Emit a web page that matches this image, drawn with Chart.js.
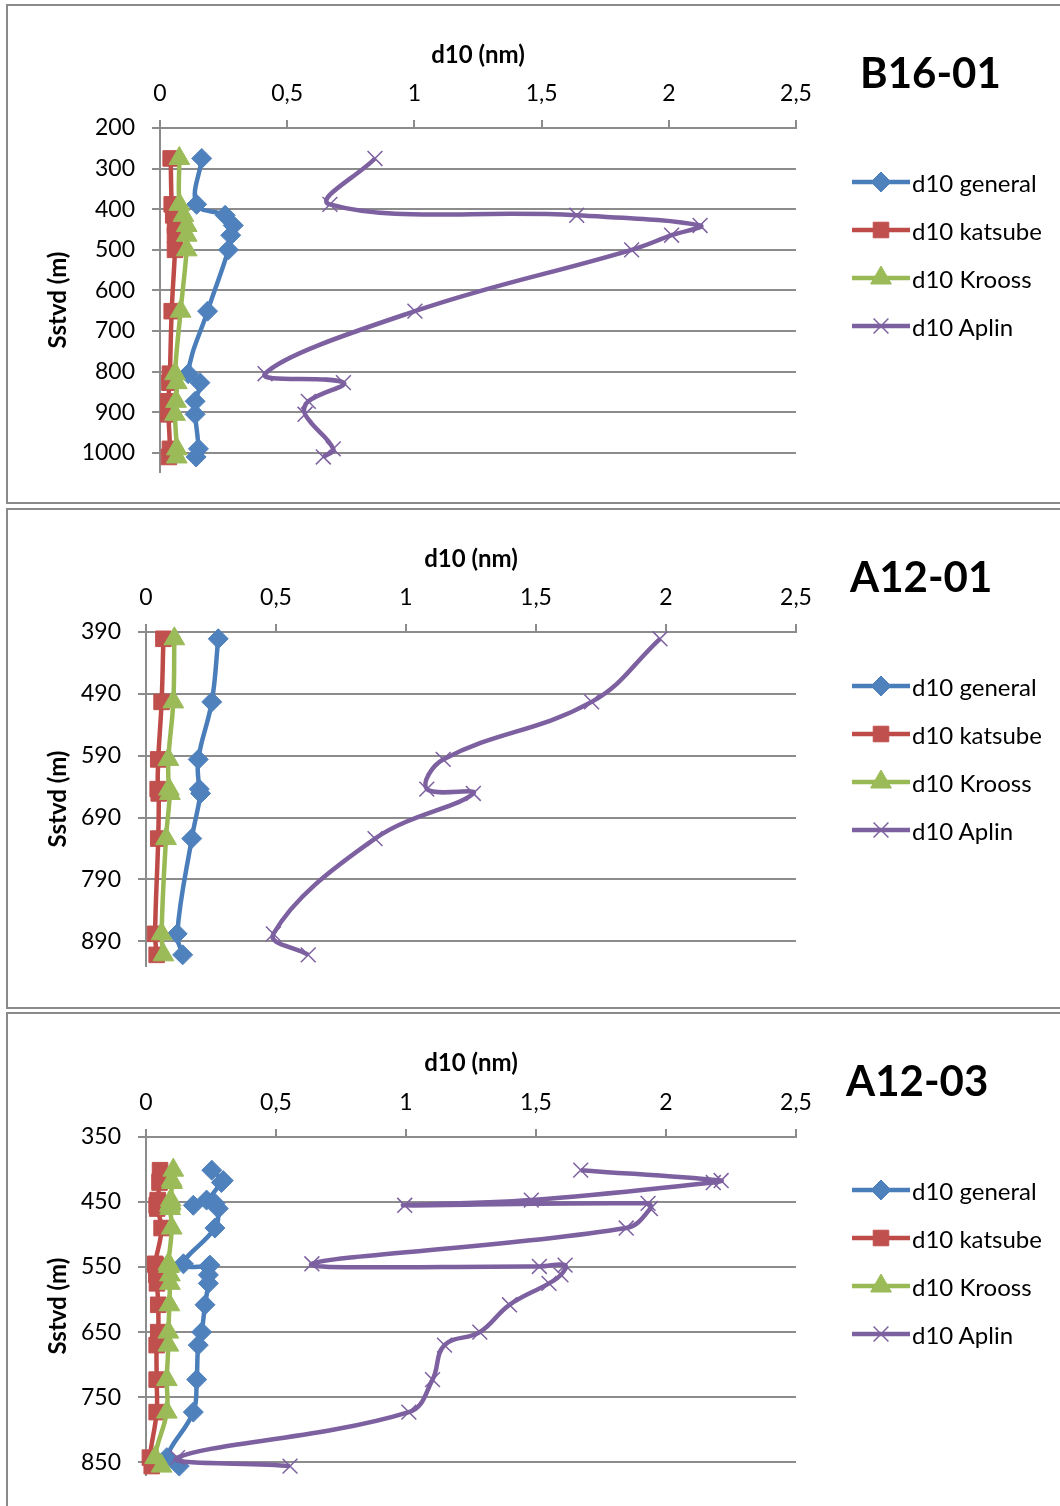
<!DOCTYPE html>
<html>
<head>
<meta charset="utf-8">
<script src="https://cdn.jsdelivr.net/npm/chart.js@4.4.1/dist/chart.umd.min.js"></script>
<style>
  body { margin: 0; width: 1060px; height: 1506px; overflow: hidden; background: #fff; position: relative; font-family: Lato, sans-serif; }
  .box { position: absolute; left: 6px; width: 1090px; border: 2px solid #8a8a8a; box-sizing: border-box; }
  canvas.chart { position: absolute; left: 0; }
  .name { position: absolute; font: bold 42px Lato, sans-serif; line-height: 42px; color: #000; }
  .legend { position: absolute; left: 852px; }
  .legend .row { display: flex; align-items: center; height: 48px; }
  .legend span { font: 24px Lato, sans-serif; color: #000; margin-left: 2px; }
</style>
</head>
<body>
<script>
// shared axis + series styling
const xTicks = [0, 0.5, 1, 1.5, 2, 2.5];
const seriesNames = ['d10 general', 'd10 katsube', 'd10 Krooss', 'd10 Aplin'];
const lineColors = ['#4a7ebb', '#be4b48', '#98b954', '#7d60a0'];
const markerColors = ['#4f81bd', '#c0504d', '#9bbb59', '#7d60a0'];
const markerStyles = ['rectRot', 'rect', 'triangle', 'crossRot'];
const markerSizes = [10, 11, 12, 10.5];

// B16-01
const b16Depth   = [275, 388, 415, 440, 464, 500, 651, 805, 827, 873, 905, 990, 1010];
const b16General = [0.164, 0.144, 0.256, 0.288, 0.278, 0.269, 0.187, 0.111, 0.157, 0.138, 0.138, 0.151, 0.142];
const b16Katsube = [0.042, 0.046, 0.052, 0.059, 0.059, 0.059, 0.046, 0.039, 0.037, 0.033, 0.033, 0.039, 0.035];
const b16Krooss  = [0.076, 0.076, 0.092, 0.105, 0.105, 0.105, 0.081, 0.059, 0.066, 0.063, 0.059, 0.066, 0.066];
const b16Aplin   = [0.845, 0.668, 1.638, 2.123, 2.011, 1.854, 1.002, 0.413, 0.721, 0.583, 0.570, 0.681, 0.642];
const b16DepthTicks = [200, 300, 400, 500, 600, 700, 800, 900, 1000];

// A12-01
const a1201Depth   = [401, 503, 596, 644, 651, 724, 878, 912];
const a1201General = [0.278, 0.253, 0.201, 0.205, 0.210, 0.176, 0.120, 0.141];
const a1201Katsube = [0.067, 0.060, 0.047, 0.045, 0.049, 0.047, 0.035, 0.041];
const a1201Krooss  = [0.109, 0.105, 0.086, 0.088, 0.092, 0.077, 0.060, 0.067];
const a1201Aplin   = [1.977, 1.714, 1.143, 1.080, 1.259, 0.881, 0.490, 0.624];
const a1201DepthTicks = [390, 490, 590, 690, 790, 890];

// A12-03
const a1203Depth   = [401, 417, 420, 447, 455, 452, 460, 490, 545, 549, 547, 562, 575, 608, 650, 670, 723, 773, 843, 856];
const a1203General = [0.253, 0.297, 0.290, 0.233, 0.182, 0.265, 0.278, 0.265, 0.144, 0.240, 0.246, 0.240, 0.240, 0.227, 0.214, 0.201, 0.195, 0.182, 0.080, 0.128];
const a1203Katsube = [0.054, 0.054, 0.052, 0.045, 0.041, 0.045, 0.043, 0.060, 0.035, 0.040, 0.037, 0.040, 0.042, 0.047, 0.047, 0.041, 0.041, 0.041, 0.015, 0.022];
const a1203Krooss  = [0.105, 0.099, 0.100, 0.095, 0.092, 0.095, 0.093, 0.099, 0.086, 0.088, 0.090, 0.092, 0.092, 0.090, 0.086, 0.086, 0.080, 0.080, 0.035, 0.060];
const a1203Aplin   = [1.672, 2.212, 2.182, 1.482, 0.995, 1.931, 1.940, 1.847, 0.638, 1.513, 1.612, 1.596, 1.550, 1.398, 1.284, 1.148, 1.102, 1.011, 0.121, 0.554];
const a1203DepthTicks = [350, 450, 550, 650, 750, 850];

Chart.defaults.font.family = 'Lato, sans-serif';
Chart.defaults.color = '#000';

const axisGray = '#8c8c8c';

function makePanel(p) {
  const box = document.createElement('div');
  box.className = 'box';
  box.style.top = p.top + 'px';
  box.style.height = p.height + 'px';
  document.body.appendChild(box);

  const canvas = document.createElement('canvas');
  canvas.className = 'chart';
  canvas.width = 1060;
  canvas.height = p.canvasHeight;
  canvas.style.top = p.top + 'px';
  document.body.appendChild(canvas);

  const chart = new Chart(canvas, {
    type: 'scatter',
    data: {
      datasets: seriesNames.map((name, i) => ({
        label: name,
        data: p.depth.map((d, k) => ({ x: p.values[i][k], y: d })),
        showLine: true,
        tension: 0.4,
        borderColor: lineColors[i],
        borderWidth: 4.5,
        backgroundColor: markerColors[i],
        pointStyle: markerStyles[i],
        pointRadius: markerSizes[i],
        pointBackgroundColor: markerColors[i],
        pointBorderColor: markerColors[i],
        pointBorderWidth: i === 3 ? 1.5 : 1,
        order: 4 - i,
        clip: false
      }))
    },
    options: {
      responsive: false,
      animation: false,
      events: [],
      layout: { padding: { left: 30, top: 20, right: 1060 - 796, bottom: p.canvasHeight - p.areaBottom } },
      plugins: { legend: { display: false }, tooltip: { enabled: false } },
      scales: {
        x: {
          type: 'linear',
          position: 'top',
          min: 0,
          max: 2.5,
          afterBuildTicks: s => { s.ticks = xTicks.map(v => ({ value: v })); },
          afterFit: s => { s.height = p.areaTop - 20; },
          ticks: { padding: 13, font: { size: 23 }, callback: v => String(v).replace('.', ',') },
          grid: { drawOnChartArea: false, tickLength: 8, color: axisGray, lineWidth: 2 },
          border: { color: axisGray, width: 2 },
          title: { display: true, text: 'd10 (nm)', font: { size: 24, weight: 'bold' }, padding: { top: 17, bottom: 0 } }
        },
        y: {
          type: 'linear',
          reverse: true,
          min: p.yMin,
          max: p.yMax,
          afterBuildTicks: s => { s.ticks = p.yTicks.map(v => ({ value: v })); },
          afterFit: s => { s.width = p.areaLeft - 30; },
          ticks: { padding: 17, font: { size: 23 }, callback: v => String(v) },
          grid: { tickLength: 8, color: axisGray, lineWidth: 2 },
          border: { color: axisGray, width: 2 },
          title: { display: true, text: 'Sstvd (m)', font: { size: 24, weight: 'bold' }, padding: { top: 14, bottom: 0 } }
        }
      }
    }
  });

  const name = document.createElement('div');
  name.className = 'name';
  name.textContent = p.name;
  name.style.left = p.nameLeft + 'px';
  name.style.top = (p.top + 47) + 'px';
  document.body.appendChild(name);

  // legend rows: line with marker, then label
  const legend = document.createElement('div');
  legend.className = 'legend';
  legend.style.top = (p.top + 154) + 'px';
  chart.data.datasets.forEach(ds => {
    const row = document.createElement('div');
    row.className = 'row';
    const icon = document.createElement('canvas');
    icon.width = 58;
    icon.height = 26;
    const ctx = icon.getContext('2d');
    ctx.strokeStyle = ds.borderColor;
    ctx.lineWidth = 4.5;
    ctx.beginPath();
    ctx.moveTo(0, 13);
    ctx.lineTo(58, 13);
    ctx.stroke();
    ctx.fillStyle = ds.pointBackgroundColor;
    ctx.strokeStyle = ds.pointBorderColor;
    ctx.lineWidth = ds.pointBorderWidth;
    Chart.helpers.drawPoint(ctx, { pointStyle: ds.pointStyle, radius: ds.pointRadius, borderWidth: ds.pointBorderWidth, rotation: 0 }, 29, 13);
    const label = document.createElement('span');
    label.textContent = ds.label;
    row.appendChild(icon);
    row.appendChild(label);
    legend.appendChild(row);
  });
  document.body.appendChild(legend);
}

makePanel({
  name: 'B16-01', nameLeft: 860, top: 4, height: 500, canvasHeight: 500,
  areaLeft: 160, areaTop: 124, areaBottom: 468,
  yMin: 200, yMax: 1047, yTicks: b16DepthTicks,
  depth: b16Depth, values: [b16General, b16Katsube, b16Krooss, b16Aplin]
});

makePanel({
  name: 'A12-01', nameLeft: 850, top: 508, height: 501, canvasHeight: 501,
  areaLeft: 146, areaTop: 124, areaBottom: 458,
  yMin: 390, yMax: 930, yTicks: a1201DepthTicks,
  depth: a1201Depth, values: [a1201General, a1201Katsube, a1201Krooss, a1201Aplin]
});

makePanel({
  name: 'A12-03', nameLeft: 846, top: 1012, height: 500, canvasHeight: 494,
  areaLeft: 146, areaTop: 125, areaBottom: 470,
  yMin: 350, yMax: 870, yTicks: a1203DepthTicks,
  depth: a1203Depth, values: [a1203General, a1203Katsube, a1203Krooss, a1203Aplin]
});
</script>
</body>
</html>
